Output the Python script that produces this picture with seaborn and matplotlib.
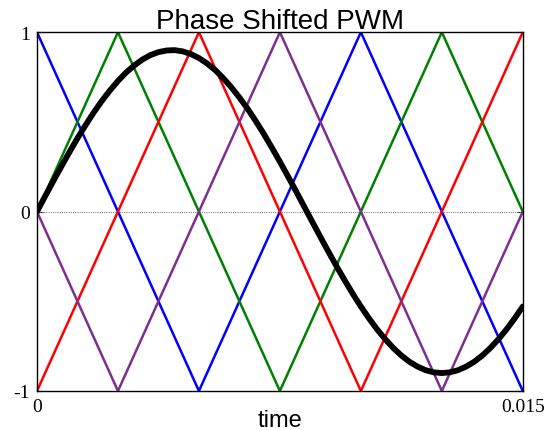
import matplotlib
matplotlib.use("Agg")
import matplotlib.pyplot as plt
import seaborn as sns
import pandas as pd

# carrier vertices (time in s)
t_tri = [0.0, 0.0025, 0.005, 0.0075, 0.01, 0.0125, 0.015]
blue_c = [1, 0, -1, 0, 1, 0, -1]
green_c = [0, 1, 0, -1, 0, 1, 0]
red_c = [-1, 0, 1, 0, -1, 0, 1]
purple_c = [0, -1, 0, 1, 0, -1, 0]

# reference (modulating) signal
t_ref = [0.0, 0.00025, 0.0005, 0.00075, 0.001, 0.00125, 0.0015, 0.00175, 0.002, 0.00225,
         0.0025, 0.00275, 0.003, 0.00325, 0.0035, 0.00375, 0.004, 0.00425, 0.0045, 0.00475,
         0.005, 0.00525, 0.0055, 0.00575, 0.006, 0.00625, 0.0065, 0.00675, 0.007, 0.00725,
         0.0075, 0.00775, 0.008, 0.00825, 0.0085, 0.00875, 0.009, 0.00925, 0.0095, 0.00975,
         0.01, 0.01025, 0.0105, 0.01075, 0.011, 0.01125, 0.0115, 0.01175, 0.012, 0.01225,
         0.0125, 0.01275, 0.013, 0.01325, 0.0135, 0.01375, 0.014, 0.01425, 0.0145, 0.01475,
         0.015]
ref = [0.0, 0.085, 0.169, 0.251, 0.331, 0.409, 0.482, 0.552, 0.616, 0.675,
       0.728, 0.775, 0.814, 0.847, 0.872, 0.889, 0.898, 0.900, 0.893, 0.878,
       0.856, 0.826, 0.789, 0.744, 0.693, 0.636, 0.574, 0.506, 0.434, 0.357,
       0.278, 0.196, 0.113, 0.028, -0.057, -0.141, -0.224, -0.305, -0.383, -0.458,
       -0.529, -0.595, -0.656, -0.711, -0.760, -0.802, -0.837, -0.864, -0.884, -0.896,
       -0.900, -0.896, -0.884, -0.864, -0.837, -0.802, -0.760, -0.711, -0.656, -0.595,
       -0.529]

x_ticks = [0, 0.015]
x_ticklabels = ["0", "0.015"]
y_ticks = [-1, 0, 1]
y_ticklabels = ["-1", "0", "1"]

sns.set_theme(style="white")
plt.rcParams["font.family"] = ["Liberation Sans", "DejaVu Sans"]

fig = plt.figure(figsize=(5.48, 4.31), dpi=100)
ax = fig.add_axes([0.0675, 0.0905, 0.8865, 0.8325])

ax.axhline(0, color="#808080", lw=0.8, ls=(0, (1, 1)), zorder=1)

carriers = [(blue_c, "#0000FF"), (green_c, "#008000"), (red_c, "#FF0000"), (purple_c, "#7E2F8E")]
for vals, col in carriers:
    df = pd.DataFrame({"t": t_tri, "v": vals})
    sns.lineplot(data=df, x="t", y="v", color=col, lw=1.8, ax=ax, sort=False, zorder=2)

dref = pd.DataFrame({"t": t_ref, "v": ref})
sns.lineplot(data=dref, x="t", y="v", color="black", lw=4.2, ax=ax, sort=False, zorder=3)

ax.set_xlim(0, 0.015)
ax.set_ylim(-1, 1)
ax.set_xticks(x_ticks)
ax.set_xticklabels(x_ticklabels, family=["Liberation Serif", "DejaVu Serif"], fontsize=14)
ax.set_yticks(y_ticks)
ax.set_yticklabels(y_ticklabels, family=["Liberation Serif", "DejaVu Serif"], fontsize=14)
ax.tick_params(direction="in", length=4, width=0.8, top=True, right=True,
               bottom=True, left=True, colors="black", pad=5)
for s in ax.spines.values():
    s.set_color("black")
    s.set_linewidth(1.0)

ax.set_title("Phase Shifted PWM", fontsize=20, pad=3, color="black")
ax.set_xlabel("time", fontsize=17, labelpad=-4, color="black")
ax.set_ylabel("")

fig.savefig("out.png", dpi=100)
